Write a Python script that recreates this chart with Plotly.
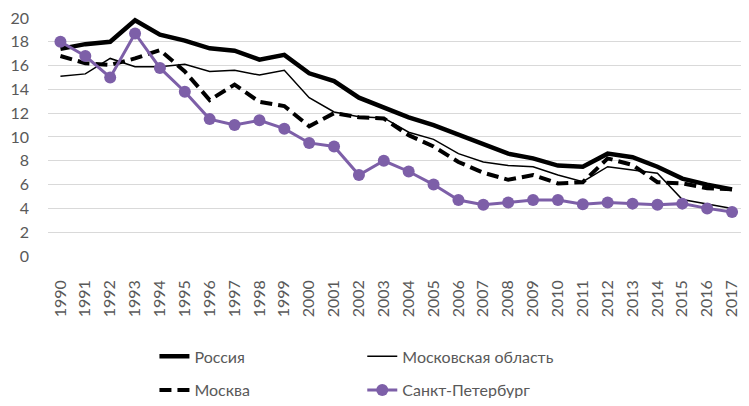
import plotly.graph_objects as go

years = [str(y) for y in range(1990, 2018)]
russia = [17.4, 17.8, 18.0, 19.8, 18.6, 18.1, 17.45, 17.25, 16.5, 16.9, 15.35, 14.7, 13.3, 12.5, 11.65, 11.0,
          10.2, 9.4, 8.6, 8.2, 7.6, 7.5, 8.6, 8.3, 7.5, 6.5, 6.0, 5.6]
mo_oblast = [15.1, 15.3, 16.6, 15.9, 15.9, 16.1, 15.5, 15.6, 15.2, 15.6, 13.3, 12.1, 11.7, 11.6, 10.4, 9.8,
             8.6, 7.9, 7.6, 7.5, 6.8, 6.25, 7.5, 7.2, 6.95, 4.75, 4.4, 4.0]
moscow = [16.8, 16.2, 16.05, 16.6, 17.3, 15.5, 13.1, 14.4, 12.95, 12.6, 10.9, 12.0, 11.65, 11.55, 10.15, 9.2,
          7.9, 7.0, 6.4, 6.8, 6.1, 6.2, 8.2, 7.65, 6.2, 6.1, 5.7, 5.6]
spb = [18.0, 16.8, 15.0, 18.7, 15.8, 13.8, 11.5, 11.0, 11.4, 10.7, 9.5, 9.2, 6.8, 8.0, 7.1, 6.0,
       4.7, 4.3, 4.5, 4.7, 4.7, 4.35, 4.5, 4.4, 4.3, 4.4, 4.0, 3.7]
y_ticks = list(range(0, 21, 2))

names = ["Россия", "Московская область", "Москва", "Санкт-Петербург"]
purple = "#7d5fa8"
gray = "#595959"

fig = go.Figure()
fig.add_trace(go.Scatter(x=years, y=russia, name=names[0], mode="lines", cliponaxis=False,
                         line=dict(color="black", width=4.5), legend="legend", legendgroup="a"))
fig.add_trace(go.Scatter(x=years, y=mo_oblast, name=names[1], mode="lines", cliponaxis=False,
                         line=dict(color="black", width=1.5), legend="legend2", legendgroup="b"))
fig.add_trace(go.Scatter(x=years, y=moscow, name=names[2], mode="lines", cliponaxis=False,
                         line=dict(color="black", width=4, dash="12px,6px"), legend="legend", legendgroup="c"))
fig.add_trace(go.Scatter(x=years, y=spb, name=names[3], mode="lines+markers", cliponaxis=False,
                         line=dict(color=purple, width=3),
                         marker=dict(color=purple, size=12), legend="legend2", legendgroup="d"))

font = dict(family="Lato, Open Sans, sans-serif", size=16, color=gray)
fig.update_layout(
    width=733, height=390,
    margin=dict(l=39.5, r=0, t=9, b=142, autoexpand=False),
    plot_bgcolor="white", paper_bgcolor="white",
    font=font,
    showlegend=True,
    legend=dict(x=0.1536, y=-0.349, xanchor="left", yanchor="top", orientation="v",
                tracegroupgap=10, font=font, bgcolor="rgba(0,0,0,0)"),
    legend2=dict(x=0.4535, y=-0.349, xanchor="left", yanchor="top", orientation="v",
                 tracegroupgap=10, font=font, bgcolor="rgba(0,0,0,0)"),
)
fig.update_xaxes(type="category", tickangle=-90, showgrid=False, showline=False, ticks="",
                 range=[-0.5, 27.36], ticklabelstandoff=20, tickfont=font, automargin=False)
fig.update_yaxes(range=[0, 20.08], tickvals=y_ticks, showgrid=True, gridcolor="#d9d9d9", gridwidth=1,
                 zeroline=False, showline=False, ticks="", ticklabelstandoff=18, tickfont=font,
                 ticklabeloverflow="allow", automargin=False)

fig.write_html("out.html")
